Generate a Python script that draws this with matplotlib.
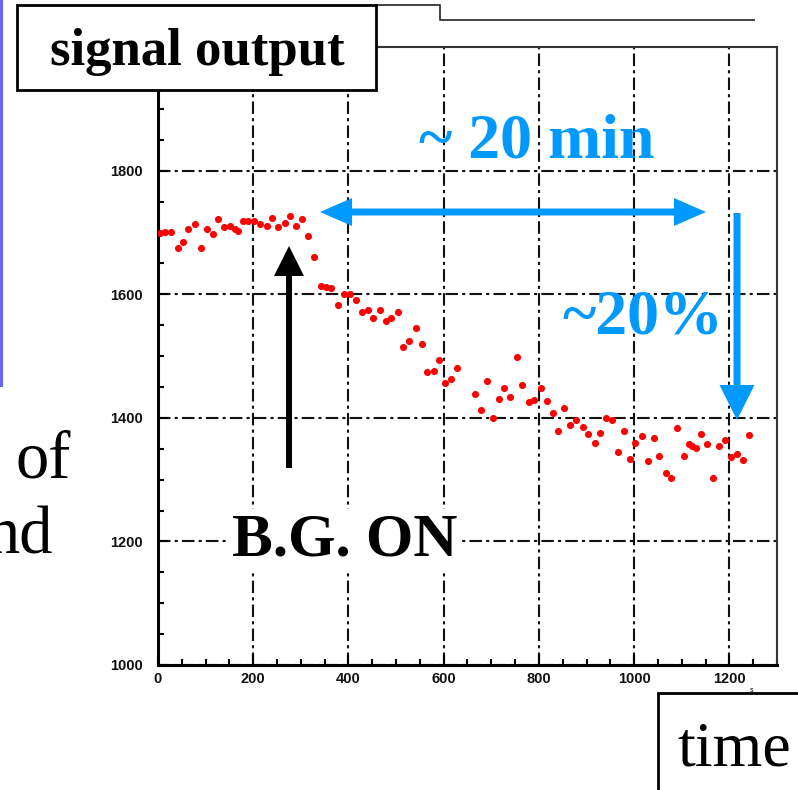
import matplotlib
matplotlib.use("Agg")
import matplotlib.pyplot as plt
import matplotlib.patches as mpatches
import matplotlib.transforms as mtransforms
from matplotlib.lines import Line2D
from matplotlib.ticker import MultipleLocator

# signal output vs time
time = [4, 15, 27, 41, 53, 64, 78, 90, 103, 115, 126, 139, 152, 161, 167, 178, 189, 201,
        215, 229, 240, 252, 266, 278, 290, 303, 315, 327, 342, 352, 364, 378, 390, 403,
        416, 428, 440, 452, 466, 479, 489, 503, 515, 528, 541, 554, 565, 579, 590, 603,
        616, 627, 665, 679, 691, 704, 716, 727, 740, 754, 765, 779, 790, 804, 816, 829,
        841, 853, 865, 878, 892, 904, 917, 929, 941, 953, 966, 978, 991, 1002, 1017, 1029,
        1041, 1053, 1067, 1078, 1090, 1105, 1115, 1122, 1129, 1141, 1154, 1166, 1178, 1191,
        1203, 1215, 1229, 1242]
signal = [1699, 1700, 1701, 1675, 1684, 1706, 1714, 1675, 1705, 1698, 1722, 1708, 1710, 1706,
          1702, 1718, 1718, 1719, 1714, 1710, 1724, 1708, 1716, 1726, 1710, 1722, 1694, 1660,
          1613, 1611, 1610, 1583, 1600, 1601, 1590, 1572, 1575, 1561, 1574, 1556, 1562, 1572,
          1514, 1524, 1546, 1520, 1474, 1475, 1493, 1456, 1462, 1480, 1438, 1413, 1460, 1400,
          1431, 1449, 1433, 1499, 1453, 1426, 1429, 1449, 1427, 1408, 1379, 1416, 1388, 1397,
          1385, 1373, 1360, 1375, 1400, 1397, 1345, 1379, 1334, 1359, 1370, 1330, 1368, 1338,
          1311, 1303, 1384, 1338, 1357, 1354, 1351, 1373, 1357, 1303, 1354, 1364, 1337, 1342,
          1331, 1372]
x_ticks = [0, 200, 400, 600, 800, 1000, 1200]
y_ticks = [1000, 1200, 1400, 1600, 1800]

W, H = 798, 790
BLUE = "#0099ff"
SERIF = "Liberation Serif"

fig = plt.figure(figsize=(W / 100, H / 100), dpi=100)
# image-pixel coordinates (origin top-left) for the slide overlay
px = mtransforms.Affine2D().scale(1, -1).translate(0, H)

ax = fig.add_axes([158 / W, (H - 665) / H, (777 - 158) / W, (665 - 47) / H])
ax.scatter(time, signal, s=26, marker="o", color="red", linewidths=0, zorder=3)
ax.set_xlim(0, 1300)
ax.set_ylim(1000, 2000)
ax.set_xticks(x_ticks)
ax.set_yticks(y_ticks)
ax.xaxis.set_minor_locator(MultipleLocator(50))
ax.yaxis.set_minor_locator(MultipleLocator(50))
ax.tick_params(which="both", direction="in", top=False, right=False, color="black")
ax.tick_params(which="major", length=7, width=1.5)
ax.tick_params(which="minor", length=4.5, width=1.5)
ax.tick_params(axis="y", pad=11)
ax.tick_params(axis="x", pad=5)
for lab in ax.get_xticklabels() + ax.get_yticklabels():
    lab.set_fontfamily("Liberation Sans")
    lab.set_fontsize(10.5)
    lab.set_fontweight("bold")
    lab.set_color("#111111")
ax.grid(True, which="major", color="#111111", lw=1.5, linestyle=(0, (6, 2, 1.5, 2)))
ax.set_axisbelow(True)
for side in ["left", "bottom"]:
    ax.spines[side].set_linewidth(2.2)
for side in ["top", "right"]:
    ax.spines[side].set_linewidth(1.5)
    ax.spines[side].set_color("#333333")

# tiny axis unit next to 1200
fig.text(750, 692, "s", transform=px, fontsize=5, family="Liberation Sans")

# slide decorations
fig.add_artist(mpatches.Rectangle((0, 0), 3, 387, transform=px, color="#6666ff", lw=0))
fig.add_artist(Line2D([376, 440, 440, 754], [5, 5, 20, 20], transform=px,
                      color="#333333", lw=1.3))
fig.add_artist(mpatches.Rectangle((17, 5), 359, 85, transform=px, facecolor="white",
                                  edgecolor="black", lw=2, zorder=5))
fig.text(197, 65, "signal output", transform=px, ha="center", va="baseline",
         family=SERIF, weight="bold", fontsize=38, zorder=6)

fig.add_artist(mpatches.Rectangle((658, 693), 160, 120, transform=px, facecolor="white",
                                  edgecolor="black", lw=2, zorder=5))
fig.text(677, 765, "time", transform=px, ha="left", va="baseline",
         family=SERIF, fontsize=46, zorder=6)

# partial words from the slide text behind the plot
fig.text(71, 477, "of", transform=px, ha="right", va="baseline", family=SERIF, fontsize=48)
fig.text(53, 553, "nd", transform=px, ha="right", va="baseline", family=SERIF, fontsize=48)

fig.text(345, 555, "B.G. ON", transform=px, ha="center", va="baseline",
         family=SERIF, weight="bold", fontsize=44, zorder=6,
         bbox=dict(facecolor="white", edgecolor="none", pad=2))
fig.text(537, 157, "~ 20 min", transform=px, ha="center", va="baseline",
         family=SERIF, weight="bold", fontsize=46, color=BLUE, zorder=6)
fig.text(643, 333, "~20%", transform=px, ha="center", va="baseline",
         family=SERIF, weight="bold", fontsize=46, color=BLUE, zorder=6)


def arrow(x0, y0, x1, y1, width, hw, hl, color):
    fig.add_artist(mpatches.FancyArrow(x0, y0, x1 - x0, y1 - y0, width=width,
                                       head_width=hw, head_length=hl,
                                       length_includes_head=True, transform=px,
                                       color=color, lw=0, zorder=6))


# black "B.G. ON" arrow
arrow(289, 468, 289, 246, 6, 30, 30, "black")
# blue double arrow (~20 min)
arrow(512, 212, 320, 212, 7, 28, 32, BLUE)
arrow(512, 212, 706, 212, 7, 28, 32, BLUE)
# blue down arrow (~20%)
arrow(737, 213, 737, 420, 7, 35, 35, BLUE)

fig.savefig("out.png", dpi=100)
